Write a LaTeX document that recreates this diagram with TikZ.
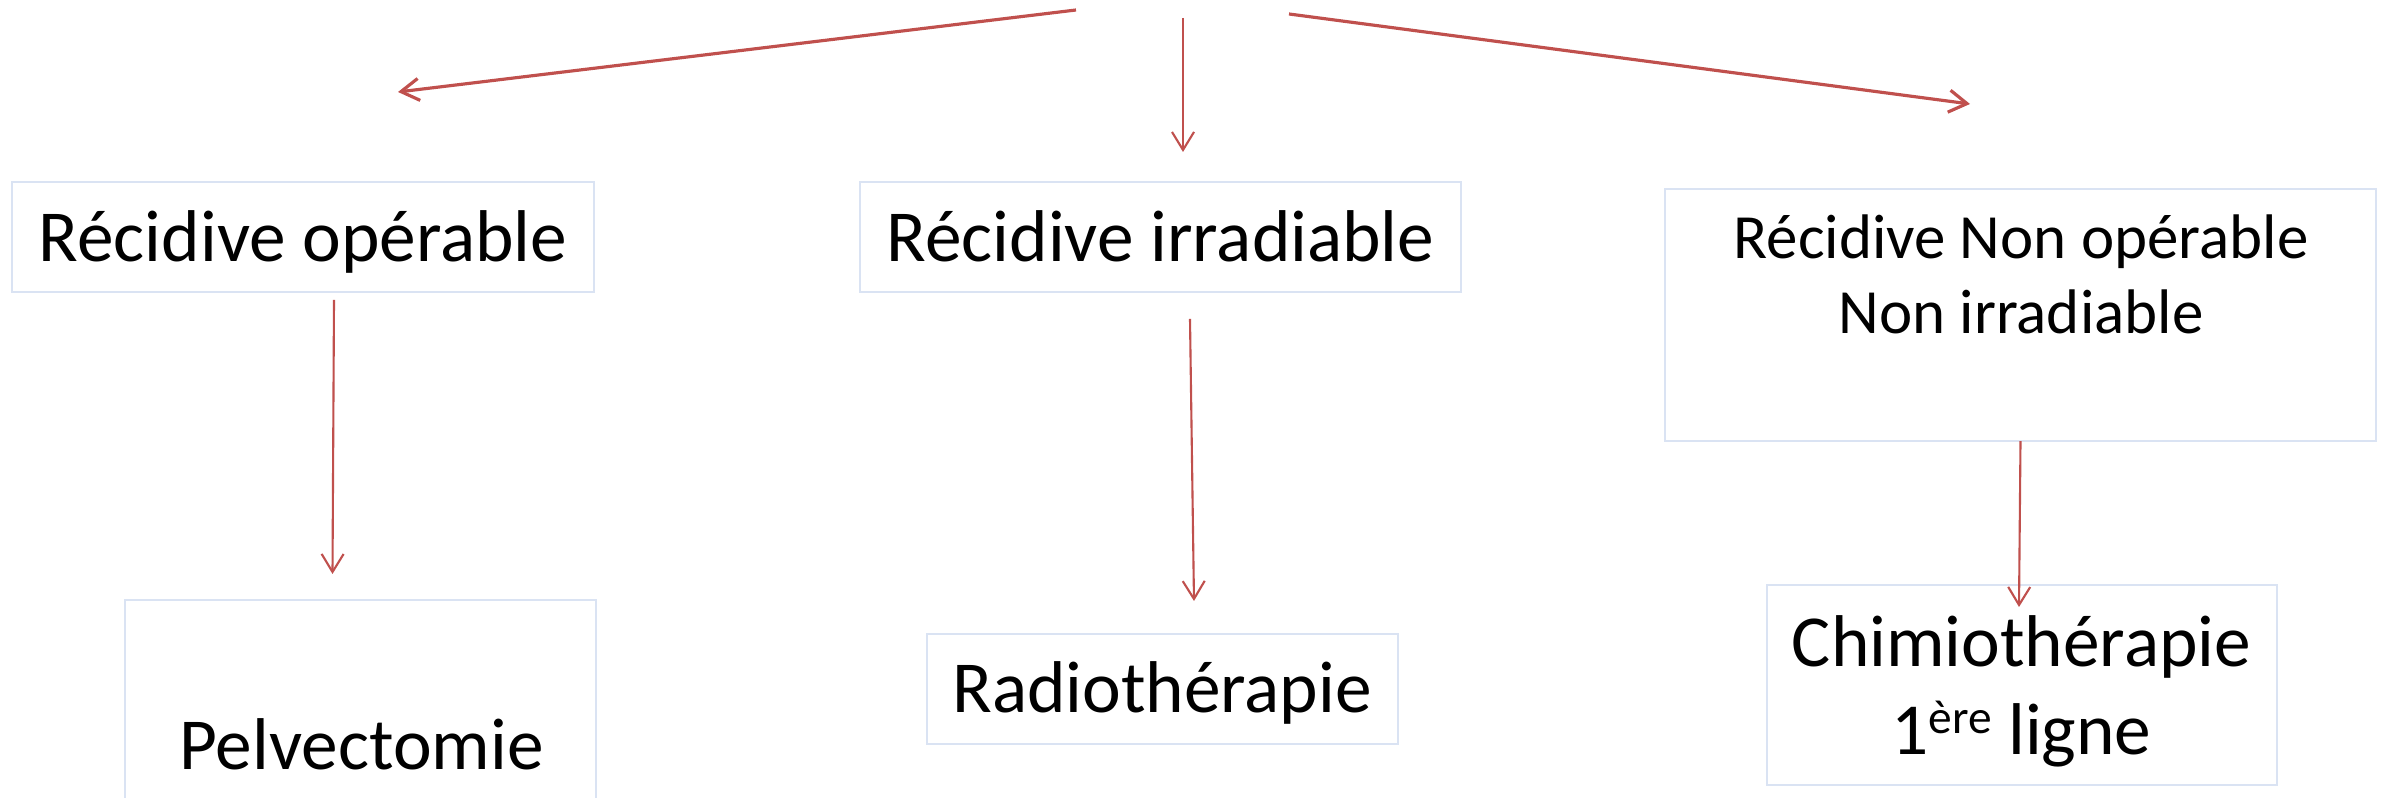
\documentclass[tikz,border=0pt]{standalone}
\usepackage{fontspec}
\setmainfont{Carlito}
\usetikzlibrary{arrows.meta}
\definecolor{boxblue}{RGB}{218,227,243}
\definecolor{arrowred}{RGB}{192,80,77}
\newcommand{\bigtxt}{\fontsize{20.85pt}{25pt}\selectfont}
\newcommand{\smalltxt}{\fontsize{17.9pt}{21.3pt}\selectfont}
\newcommand{\supr}[1]{\raisebox{6pt}{\fontsize{13.5pt}{16pt}\selectfont #1}}
\tikzset{
  box/.style={draw=boxblue, line width=0.6pt, rectangle, inner sep=0pt, outer sep=0pt},
  lbl/.style={anchor=base, inner sep=0pt, text=black},
  link/.style={draw=arrowred, line width=0.6pt, -{Straight Barb[length=0.18cm,width=0.22cm]}},
  linkthick/.style={link, line width=0.9pt},
}
\begin{document}
\begin{tikzpicture}[x=0.01cm,y=-0.01cm]
  \clip (0,0) rectangle (2384,798);
  \fill[white] (0,0) rectangle (2384,798);

  % decision boxes
  \node[box, minimum width=5.82cm, minimum height=1.10cm] (b1) at (303,237) {};
  \node[box, minimum width=6.01cm, minimum height=1.10cm] (b2) at (1160.5,237) {};
  \node[box, minimum width=7.11cm, minimum height=2.52cm] (b3) at (2020.5,315) {};

  % treatment boxes
  \node[box, minimum width=4.71cm, minimum height=2.40cm] (b4) at (360.5,720) {};
  \node[box, minimum width=4.705cm, minimum height=1.10cm] (b5) at (1162.75,689) {};
  \node[box, minimum width=5.10cm, minimum height=2.00cm] (b6) at (2022,685) {};

  % labels
  \node[lbl] (t1) at (303,262) {\bigtxt Récidive opérable};
  \node[lbl] (t2) at (1160.5,262) {\bigtxt Récidive irradiable};
  \node[lbl] (t3a) at (2021,259) {\smalltxt Récidive Non opérable};
  \node[lbl] (t3b) at (2021,334) {\smalltxt Non irradiable};
  \node[lbl] (t4) at (361.5,770) {\bigtxt Pelvectomie};
  \node[lbl] (t5) at (1162,713) {\bigtxt Radiothérapie};
  \node[lbl] (t6a) at (2021.5,667) {\bigtxt Chimiothérapie};
  \node[lbl] (t6b) at (2021.5,755) {\bigtxt 1\supr{ère} ligne};

  % connector end points
  \coordinate (s1) at (1076,10);
  \coordinate (e1) at (398,92);
  \coordinate (s2) at (1183,18);
  \coordinate (e2) at (1183,152);
  \coordinate (s3) at (1289,14);
  \coordinate (e3) at (1970,104);
  \coordinate (s4) at (334,300);
  \coordinate (e4) at (332.5,574);
  \coordinate (s5) at (1190,319);
  \coordinate (e5) at (1194,601);
  \coordinate (e6) at (2019,607);

  % connectors
  \draw[linkthick] (s1) -- (e1);
  \draw[link] (s2) -- (e2);
  \draw[linkthick] (s3) -- (e3);
  \draw[link] (s4) -- (e4);
  \draw[link] (s5) -- (e5);
  \draw[link] (b3.south) -- (e6);
\end{tikzpicture}
\end{document}
